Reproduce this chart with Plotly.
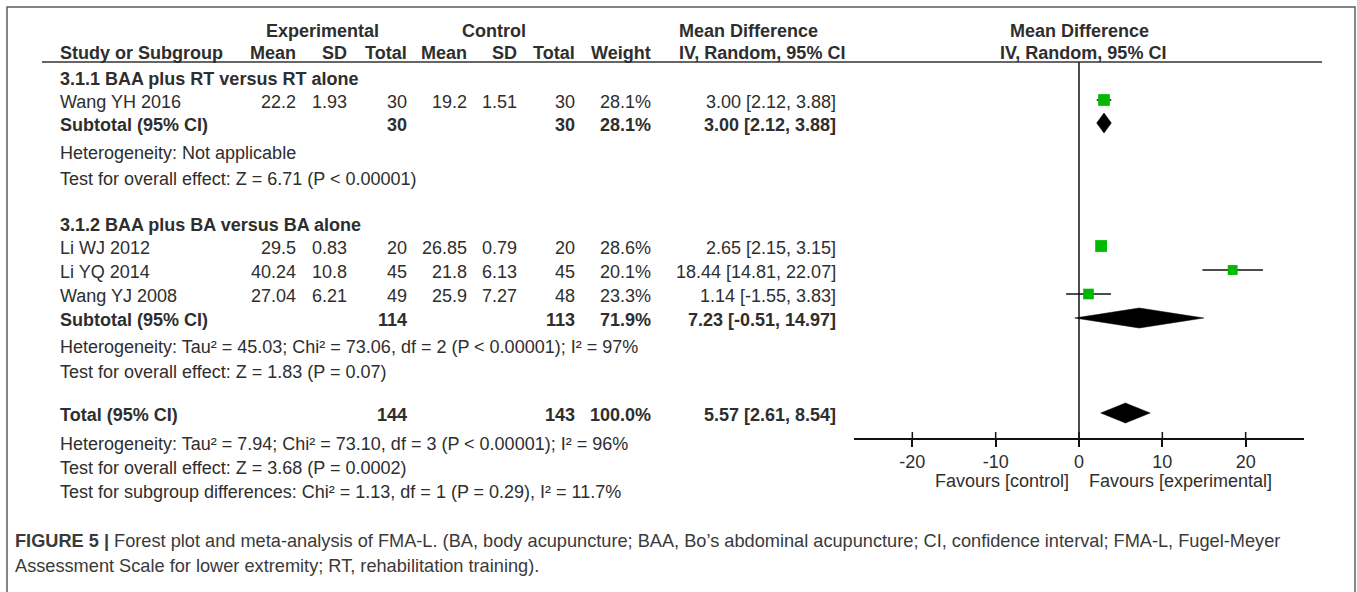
import plotly.graph_objects as go
import math

W, H = 1357, 592

# ---------------- data ----------------
studies = ["Wang YH 2016", "Li WJ 2012", "Li YQ 2014", "Wang YJ 2008"]
exp_mean = [22.2, 29.5, 40.24, 27.04]
exp_sd = [1.93, 0.83, 10.8, 6.21]
exp_n = [30, 20, 45, 49]
ctrl_mean = [19.2, 26.85, 21.8, 25.9]
ctrl_sd = [1.51, 0.79, 6.13, 7.27]
ctrl_n = [30, 20, 45, 48]
weights = [28.1, 28.6, 20.1, 23.3]
md = [3.00, 2.65, 18.44, 1.14]
md_lo = [2.12, 2.15, 14.81, -1.55]
md_hi = [3.88, 3.15, 22.07, 3.83]

sub_titles = ["3.1.1 BAA plus RT versus RT alone", "3.1.2 BAA plus BA versus BA alone"]
sub_exp_n = [30, 114]
sub_ctrl_n = [30, 113]
sub_w = [28.1, 71.9]
sub_md = [3.00, 7.23]
sub_lo = [2.12, -0.51]
sub_hi = [3.88, 14.97]
sub_het = ["Heterogeneity: Not applicable",
           "Heterogeneity: Tau² = 45.03; Chi² = 73.06, df = 2 (P < 0.00001); I² = 97%"]
sub_test = ["Test for overall effect: Z = 6.71 (P < 0.00001)",
            "Test for overall effect: Z = 1.83 (P = 0.07)"]

tot_exp_n, tot_ctrl_n, tot_w = 144, 143, 100.0
tot_md, tot_lo, tot_hi = 5.57, 2.61, 8.54
tot_lines = ["Heterogeneity: Tau² = 7.94; Chi² = 73.10, df = 3 (P < 0.00001); I² = 96%",
             "Test for overall effect: Z = 3.68 (P = 0.0002)",
             "Test for subgroup differences: Chi² = 1.13, df = 1 (P = 0.29), I² = 11.7%"]

tick_vals = [-20, -10, 0, 10, 20]
tick_text = ["-20", "-10", "0", "10", "20"]

# ---------------- layout (pixel positions) ----------------
FONT = "Liberation Sans, Arial, sans-serif"
TXT = "#2e2e2e"
study_rows = [102, 248, 272, 296]
sub_title_rows = [79, 225]
sub_rows = [125, 320]
sub_het_rows = [153, 347]
sub_test_rows = [179, 372]
tot_row = 415
tot_line_rows = [444, 468, 492]
mark_shift = -2

col_left = 58
c_em, c_esd, c_en = 298, 349, 409
c_cm, c_csd, c_cn = 469, 519, 577
c_w, c_ci = 653, 838

fig = go.Figure()
ann = []


def txt(x, y, s, anchor="left", bold=False, size=18, color=TXT):
    if bold:
        s = "<b>" + s + "</b>"
    ann.append(dict(x=x / W, y=y, xref="paper", yref="y", text=s, showarrow=False,
                    xanchor=anchor, yanchor="middle",
                    font=dict(family=FONT, size=size, color=color)))


def fmt(v):
    return ("%g" % v)


def ci(m, l, h):
    return "%.2f [%.2f, %.2f]" % (m, l, h)


# headers
txt(322, 31, "Experimental", "center", True)
txt(494, 31, "Control", "center", True)
txt(677, 31, "Mean Difference", "left", True)
txt(1079, 31, "Mean Difference", "center", True)
txt(col_left, 53, "Study or Subgroup", "left", True)
txt(c_em, 53, "Mean", "right", True)
txt(c_esd, 53, "SD", "right", True)
txt(c_en, 53, "Total", "right", True)
txt(c_cm, 53, "Mean", "right", True)
txt(c_csd, 53, "SD", "right", True)
txt(c_cn, 53, "Total", "right", True)
txt(c_w, 53, "Weight", "right", True)
txt(677, 53, "IV, Random, 95% CI", "left", True)
txt(1083, 53, "IV, Random, 95% CI", "center", True)

# subgroup blocks
for g in range(2):
    txt(col_left, sub_title_rows[g], sub_titles[g], bold=True)
    txt(col_left, sub_rows[g], "Subtotal (95% CI)", bold=True)
    txt(c_en, sub_rows[g], str(sub_exp_n[g]), "right", True)
    txt(c_cn, sub_rows[g], str(sub_ctrl_n[g]), "right", True)
    txt(c_w, sub_rows[g], "%.1f%%" % sub_w[g], "right", True)
    txt(c_ci, sub_rows[g], ci(sub_md[g], sub_lo[g], sub_hi[g]), "right", True)
    txt(col_left, sub_het_rows[g], sub_het[g])
    txt(col_left, sub_test_rows[g], sub_test[g])

for i, s in enumerate(studies):
    y = study_rows[i]
    txt(col_left, y, s)
    txt(c_em, y, fmt(exp_mean[i]), "right")
    txt(c_esd, y, fmt(exp_sd[i]), "right")
    txt(c_en, y, str(exp_n[i]), "right")
    txt(c_cm, y, fmt(ctrl_mean[i]), "right")
    txt(c_csd, y, fmt(ctrl_sd[i]), "right")
    txt(c_cn, y, str(ctrl_n[i]), "right")
    txt(c_w, y, "%.1f%%" % weights[i], "right")
    txt(c_ci, y, ci(md[i], md_lo[i], md_hi[i]), "right")

# total
txt(col_left, tot_row, "Total (95% CI)", bold=True)
txt(c_en, tot_row, str(tot_exp_n), "right", True)
txt(c_cn, tot_row, str(tot_ctrl_n), "right", True)
txt(c_w, tot_row, "%.1f%%" % tot_w, "right", True)
txt(c_ci, tot_row, ci(tot_md, tot_lo, tot_hi), "right", True)
for s, y in zip(tot_lines, tot_line_rows):
    txt(col_left, y, s)

# favours labels
txt(1071, 481, "Favours [control]", "right")
txt(1087, 481, "Favours [experimental]", "left")

# caption
CAP = "#3a3a3a"
txt(13, 541, "<b>FIGURE 5 |</b> Forest plot and meta-analysis of FMA-L. (BA, body acupuncture; BAA, "
    "Bo’s abdominal acupuncture; CI, confidence interval; FMA-L, Fugel-Meyer", size=18.2, color=CAP)
txt(13, 566, "Assessment Scale for lower extremity; RT, rehabilitation training).", size=18.2, color=CAP)

# ---------------- marks ----------------
ci_x, ci_y = [], []
for i in range(len(studies)):
    y = study_rows[i] + mark_shift
    ci_x += [md_lo[i], md_hi[i], None]
    ci_y += [y, y, None]
fig.add_trace(go.Scatter(x=ci_x, y=ci_y, mode="lines",
                         line=dict(color="#111111", width=1.5), hoverinfo="skip",
                         showlegend=False))

DH = 10


def diamond(m, l, h, y):
    fig.add_trace(go.Scatter(x=[l, m, h, m, l], y=[y, y - DH, y, y + DH, y], mode="lines",
                             fill="toself", fillcolor="black", line=dict(color="black", width=0.5),
                             hoverinfo="skip", showlegend=False))


for g in range(2):
    diamond(sub_md[g], sub_lo[g], sub_hi[g], sub_rows[g] + mark_shift)
diamond(tot_md, tot_lo, tot_hi, tot_row + mark_shift)

fig.add_trace(go.Scatter(
    x=md, y=[r + mark_shift for r in study_rows], mode="markers", opacity=1,
    marker=dict(symbol="square", color="#00b900", opacity=1,
                size=[2.2 * math.sqrt(w) for w in weights], line=dict(width=0)),
    showlegend=False))

AXIS_Y = 439
shapes = []
# header underline
shapes.append(dict(type="line", xref="paper", yref="y", x0=42 / W, x1=1322 / W, y0=62, y1=62,
                   line=dict(color="#333333", width=1.5)))
# zero line
shapes.append(dict(type="line", xref="x", yref="y", x0=0, x1=0, y0=62, y1=AXIS_Y,
                   line=dict(color="#111111", width=1.5), layer="below"))
# upper halves of ticks
for v in tick_vals:
    shapes.append(dict(type="line", xref="x", yref="y", x0=v, x1=v, y0=AXIS_Y - 7, y1=AXIS_Y,
                       line=dict(color="#111111", width=1.5)))
# figure frame
shapes.append(dict(type="rect", xref="paper", yref="paper", x0=7 / W, x1=1355 / W,
                   y0=-0.05, y1=1 - 7 / H, line=dict(color="#5e5e5e", width=1.5),
                   fillcolor="rgba(0,0,0,0)"))

fig.update_layout(
    width=W, height=H, margin=dict(l=0, r=0, t=0, b=0),
    paper_bgcolor="white", plot_bgcolor="rgba(0,0,0,0)",
    showlegend=False, annotations=ann, shapes=shapes,
    xaxis=dict(domain=[854 / W, 1304 / W], range=[-27, 27], anchor="free", position=1 - AXIS_Y / H,
               showline=True, linecolor="#111111", linewidth=1.5, ticks="outside", ticklen=7,
               tickwidth=1.5, tickcolor="#111111", tickvals=tick_vals, ticktext=tick_text,
               tickfont=dict(family=FONT, size=18, color=TXT), showgrid=False, zeroline=False,
               fixedrange=True),
    yaxis=dict(domain=[0, 1], range=[H, 0], visible=False, showgrid=False, zeroline=False,
               fixedrange=True),
)

fig.write_html("out.html")
